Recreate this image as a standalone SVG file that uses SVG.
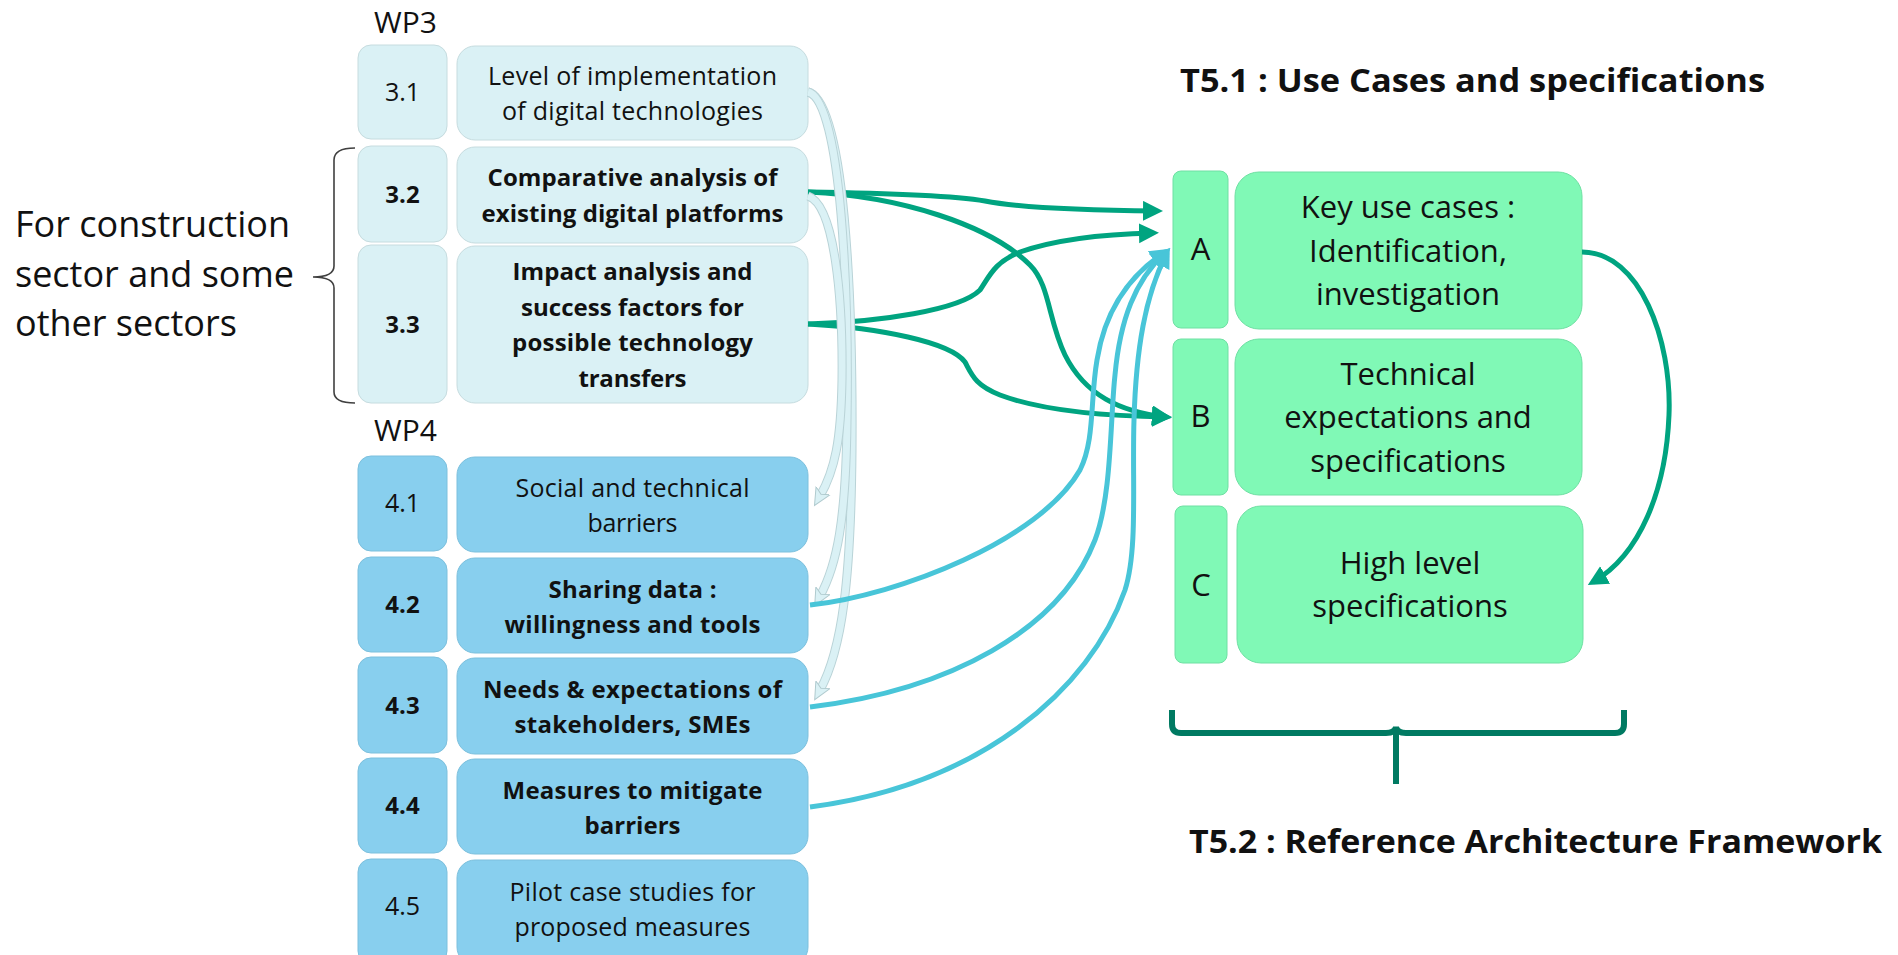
<svg xmlns="http://www.w3.org/2000/svg" width="1898" height="955" viewBox="0 0 1898 955">
<defs>
<style>
.wp3{fill:#DAF1F5;stroke:#C6DCDF;stroke-width:1}
.wp4{fill:#88CFEE;stroke:#7CC0DD;stroke-width:1}
.t5{fill:#80F9B6;stroke:#6FE0A3;stroke-width:1}
text{font-family:"Open Sans","Liberation Sans",sans-serif;fill:#111;text-anchor:middle}
.r{font-size:25px}
.b{font-size:24px;font-weight:700}
.big{font-size:31px}
.lab{font-size:30px;text-anchor:start}
.side{font-size:36px;text-anchor:start}
.title{font-size:32px;font-weight:700;text-anchor:start}
.g{fill:none;stroke:#00A480;stroke-width:5}
.c{fill:none;stroke:#48C5D8;stroke-width:5}
.lo{fill:none;stroke:#B9D3D7;stroke-width:9}
.li{fill:none;stroke:#DAF1F5;stroke-width:7}
</style>
<marker id="mg" markerUnits="userSpaceOnUse" markerWidth="22" markerHeight="22" refX="14" refY="10" orient="auto" viewBox="0 0 22 22"><path d="M0,0 L20,10 L0,20 z" fill="#00A480"/></marker>
<marker id="mc" markerUnits="userSpaceOnUse" markerWidth="22" markerHeight="22" refX="14" refY="10" orient="auto" viewBox="0 0 22 22"><path d="M0,0 L20,10 L0,20 z" fill="#48C5D8"/></marker>
<marker id="ml" markerUnits="userSpaceOnUse" markerWidth="22" markerHeight="22" refX="6" refY="9" orient="auto" viewBox="0 0 22 22"><path d="M0,1 L17,9 L0,17 L4,9 z" fill="#DAF1F5" stroke="#B0CACE" stroke-width="1"/></marker>
</defs>
<rect width="1898" height="955" fill="#FFFFFF"/>

<text class="lab" x="374" y="33">WP3</text>
<text class="lab" x="374" y="441">WP4</text>

<g id="side-label">
<text class="side" x="15" y="237">For construction</text>
<text class="side" x="15" y="287">sector and some</text>
<text class="side" x="15" y="336">other sectors</text>
<path d="M355,148 Q334,148 334,160 L334,266 Q334,277 313,277 Q334,277 334,288 L334,392 Q334,403 355,403" fill="none" stroke="#404040" stroke-width="1.6"/>
</g>

<g id="n31"><rect class="wp3" x="358" y="45" width="89" height="94" rx="13"/><text class="r" x="402.5" y="101">3.1</text></g>
<g id="t31"><rect class="wp3" x="457" y="46" width="351" height="94" rx="18"/><text class="r" x="632.5" y="85" textLength="289">Level of implementation</text><text class="r" x="632.5" y="120" textLength="261">of digital technologies</text></g>
<g id="n32"><rect class="wp3" x="358" y="146" width="89" height="96" rx="13"/><text class="b" x="402.5" y="203">3.2</text></g>
<g id="t32"><rect class="wp3" x="457" y="147" width="351" height="96" rx="18"/><text class="b" x="632.5" y="186" textLength="290">Comparative analysis of</text><text class="b" x="632.5" y="222" textLength="302">existing digital platforms</text></g>
<g id="n33"><rect class="wp3" x="358" y="245" width="89" height="158" rx="13"/><text class="b" x="402.5" y="333">3.3</text></g>
<g id="t33"><rect class="wp3" x="457" y="246" width="351" height="157" rx="18"/><text class="b" x="632.5" y="280" textLength="240">Impact analysis and</text><text class="b" x="632.5" y="315.5" textLength="223">success factors for</text><text class="b" x="632.5" y="351" textLength="241">possible technology</text><text class="b" x="632.5" y="386.5" textLength="108">transfers</text></g>

<g id="n41"><rect class="wp4" x="358" y="456" width="89" height="95" rx="13"/><text class="r" x="402.5" y="512">4.1</text></g>
<g id="t41"><rect class="wp4" x="457" y="457" width="351" height="95" rx="18"/><text class="r" x="632.5" y="497" textLength="234">Social and technical</text><text class="r" x="632.5" y="532" textLength="90">barriers</text></g>
<g id="n42"><rect class="wp4" x="358" y="557" width="89" height="95" rx="13"/><text class="b" x="402.5" y="613">4.2</text></g>
<g id="t42"><rect class="wp4" x="457" y="558" width="351" height="95" rx="18"/><text class="b" x="632.5" y="598" textLength="168">Sharing data :</text><text class="b" x="632.5" y="633" textLength="256">willingness and tools</text></g>
<g id="n43"><rect class="wp4" x="358" y="657" width="89" height="96" rx="13"/><text class="b" x="402.5" y="714">4.3</text></g>
<g id="t43"><rect class="wp4" x="457" y="658" width="351" height="96" rx="18"/><text class="b" x="632.5" y="698" textLength="299">Needs &amp; expectations of</text><text class="b" x="632.5" y="733" textLength="236">stakeholders, SMEs</text></g>
<g id="n44"><rect class="wp4" x="358" y="758" width="89" height="95" rx="13"/><text class="b" x="402.5" y="814">4.4</text></g>
<g id="t44"><rect class="wp4" x="457" y="759" width="351" height="95" rx="18"/><text class="b" x="632.5" y="799" textLength="260">Measures to mitigate</text><text class="b" x="632.5" y="834" textLength="96">barriers</text></g>
<g id="n45"><rect class="wp4" x="358" y="859" width="89" height="105" rx="13"/><text class="r" x="402.5" y="915">4.5</text></g>
<g id="t45"><rect class="wp4" x="457" y="860" width="351" height="105" rx="18"/><text class="r" x="632.5" y="901" textLength="246">Pilot case studies for</text><text class="r" x="632.5" y="936" textLength="236">proposed measures</text></g>

<g id="A"><rect class="t5" x="1173" y="171" width="55" height="157" rx="8"/><text class="big" x="1200.5" y="260">A</text></g>
<g id="A-text"><rect class="t5" x="1235" y="172" width="347" height="157" rx="24"/><text class="big" x="1408" y="218">Key use cases :</text><text class="big" x="1408" y="262">Identification,</text><text class="big" x="1408" y="305">investigation</text></g>
<g id="B"><rect class="t5" x="1173" y="339" width="55" height="156" rx="8"/><text class="big" x="1200.5" y="427">B</text></g>
<g id="B-text"><rect class="t5" x="1235" y="339" width="347" height="156" rx="24"/><text class="big" x="1408" y="385">Technical</text><text class="big" x="1408" y="428">expectations and</text><text class="big" x="1408" y="472">specifications</text></g>
<g id="C"><rect class="t5" x="1175" y="506" width="52" height="157" rx="8"/><text class="big" x="1201" y="596">C</text></g>
<g id="C-text"><rect class="t5" x="1237" y="506" width="346" height="157" rx="24"/><text class="big" x="1410" y="574">High level</text><text class="big" x="1410" y="617">specifications</text></g>

<g id="titles">
<text class="title" x="1180" y="92" textLength="585" lengthAdjust="spacingAndGlyphs">T5.1 : Use Cases and specifications</text>
<text class="title" x="1189" y="853" textLength="693" lengthAdjust="spacingAndGlyphs">T5.2 : Reference Architecture Framework</text>
</g>

<g id="bracket">
<path d="M1172,710 L1172,724 Q1172,733 1181,733 L1386,733 Q1395,733 1396,727 Q1397,733 1406,733 L1615,733 Q1624,733 1624,724 L1624,710" fill="none" stroke="#007A62" stroke-width="6"/>
<path d="M1396,731 L1396,784" fill="none" stroke="#007A62" stroke-width="6"/>
</g>

<g id="connectors">
<path class="g" marker-end="url(#mg)" d="M808,192 C880,193 950,195 985,201 C1010,206 1060,210 1157,211"/>
<path class="g" marker-end="url(#mg)" d="M808,192 C900,196 990,225 1030,265 C1050,285 1048,320 1065,355 C1085,395 1120,412 1166,417"/>
<path class="g" marker-end="url(#mg)" d="M808,324 C880,322 960,310 980,290 C990,275 995,262 1020,252 C1060,238 1110,234 1153,233"/>
<path class="g" marker-end="url(#mg)" d="M808,324 C880,328 950,342 965,362 C972,375 975,385 1000,395 C1040,410 1100,416 1166,417"/>
<path class="g" marker-end="url(#mg)" d="M1582,252 C1640,252 1672,340 1669,415 C1666,490 1640,555 1593,582"/>

<path class="lo" d="M808,92 C845,100 853,300 852,450 C851,580 842,650 820,690"/>
<path class="li" marker-end="url(#ml)" d="M808,92 C845,100 853,300 852,450 C851,580 842,650 820,690"/>
<path class="lo" d="M808,92 C842,100 849,300 847,420 C846,520 837,565 820,596"/>
<path class="li" marker-end="url(#ml)" d="M808,92 C842,100 849,300 847,420 C846,520 837,565 820,596"/>
<path class="lo" d="M808,196 C835,205 843,300 842,380 C841,440 835,470 820,496"/>
<path class="li" marker-end="url(#ml)" d="M808,196 C835,205 843,300 842,380 C841,440 835,470 820,496"/>

<path class="c" marker-end="url(#mc)" d="M810,605 C900,595 1040,540 1080,470 C1095,440 1090,400 1097,360 C1105,310 1130,275 1165,252"/>
<path class="c" marker-end="url(#mc)" d="M810,707 C950,690 1060,630 1095,540 C1112,495 1110,420 1115,375 C1120,320 1135,280 1166,252"/>
<path class="c" marker-end="url(#mc)" d="M810,807 C980,785 1090,690 1125,590 C1138,550 1132,480 1134,420 C1136,350 1145,295 1167,253"/>
</g>
</svg>
